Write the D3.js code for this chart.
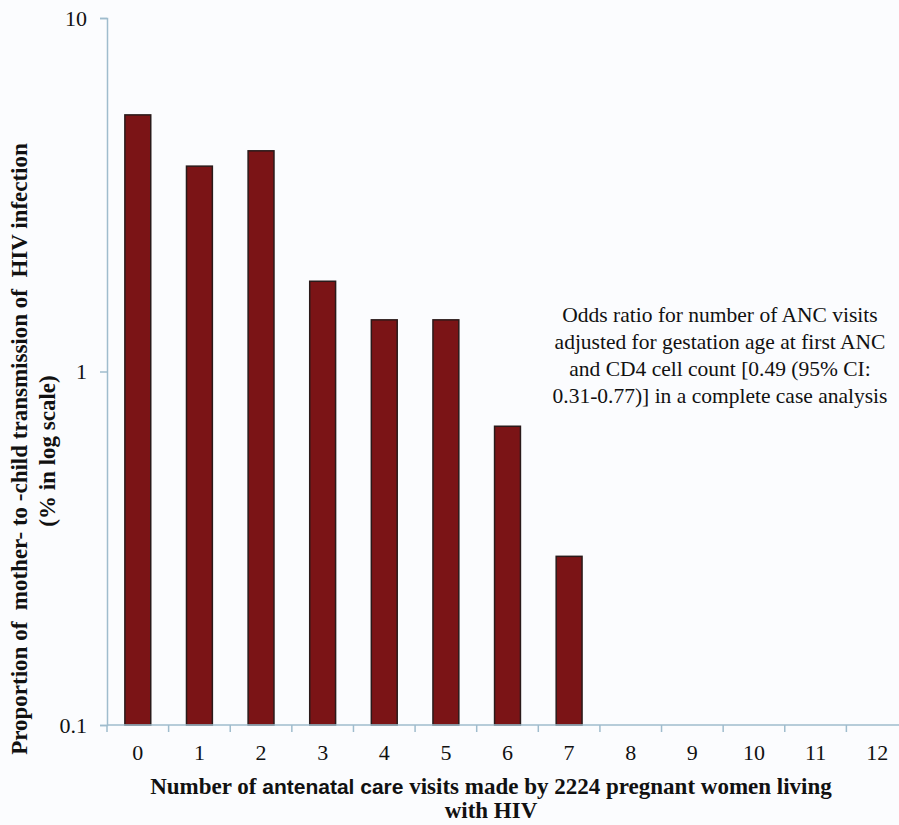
<!DOCTYPE html>
<html>
<head>
<meta charset="utf-8">
<script src="https://cdn.jsdelivr.net/npm/d3@7"></script>
<style>
  body { margin: 0; background: #fbfcfe; }
  svg { display: block; }
  svg text { font-family: "Liberation Serif", "Times New Roman", serif; }
</style>
</head>
<body>
<div id="chart"></div>
<script>
// data (% transmission, log scale)
const visits = ["0","1","2","3","4","5","6","7","8","9","10","11","12"];
const transmission = [5.32, 3.81, 4.21, 1.80, 1.40, 1.40, 0.70, 0.30, null, null, null, null, null];
const yTicks = [0.1, 1, 10];
const noteLines = [
  "Odds ratio for number of ANC visits",
  "adjusted for gestation age at first ANC",
  "and CD4 cell count [0.49 (95% CI:",
  "0.31-0.77)] in a complete case analysis"
];

const width = 899, height = 825;
const plotLeft = 107, plotTop = 18, plotBottom = 725, plotRight = 908;

const svg = d3.select("#chart")
    .append("svg")
    .attr("width", width)
    .attr("height", height);

svg.append("rect").attr("width", width).attr("height", height).attr("fill", "#fbfcfe");

const x = d3.scaleBand()
    .domain(visits)
    .range([plotLeft, plotRight])
    .paddingInner(0.58)
    .paddingOuter(0.29);

const y = d3.scaleLog()
    .domain([0.1, 10])
    .range([plotBottom, plotTop]);

const axisColor = "#9fbccd";

// bars
svg.selectAll("rect.bar")
    .data(visits.map((v, i) => ({v: v, p: transmission[i]})).filter(d => d.p != null))
    .enter()
    .append("rect")
    .attr("class", "bar")
    .attr("x", d => x(d.v))
    .attr("width", x.bandwidth())
    .attr("y", d => y(d.p))
    .attr("height", d => y(0.1) - y(d.p))
    .attr("fill", "#7b1416")
    .attr("stroke", "#2a1a1a")
    .attr("stroke-width", 1.5);

// y axis
const yAxis = svg.append("g")
    .attr("transform", `translate(${plotLeft},0)`)
    .call(d3.axisLeft(y).tickValues(yTicks).tickFormat(d3.format("")).tickSize(7).tickPadding(13));
yAxis.select(".domain").attr("stroke", axisColor).attr("stroke-width", 1.5);
yAxis.selectAll(".tick line").attr("stroke", axisColor).attr("stroke-width", 1.5);
yAxis.selectAll("text").attr("font-size", 22).attr("fill", "#111");

// x axis: ticks sit on the boundaries between categories
const xg = svg.append("g").attr("transform", `translate(0,${plotBottom})`);
xg.append("line")
    .attr("x1", plotLeft).attr("x2", plotRight)
    .attr("stroke", axisColor).attr("stroke-width", 1.5);
const gap = (x.step() - x.bandwidth()) / 2;
xg.selectAll("line.tk")
    .data(visits)
    .enter()
    .append("line")
    .attr("class", "tk")
    .attr("x1", d => x(d) - gap)
    .attr("x2", d => x(d) - gap)
    .attr("y1", 0).attr("y2", 7)
    .attr("stroke", axisColor).attr("stroke-width", 1.5);
xg.selectAll("text")
    .data(visits)
    .enter()
    .append("text")
    .attr("x", d => x(d) + x.bandwidth() / 2)
    .attr("y", 35)
    .attr("text-anchor", "middle")
    .attr("font-size", 22)
    .attr("fill", "#111")
    .text(d => d);

// x title
const xt = svg.append("text")
    .attr("x", 491)
    .attr("y", 794)
    .attr("text-anchor", "middle")
    .attr("font-weight", "bold")
    .attr("font-size", 23)
    .attr("fill", "#111");
xt.append("tspan").text("Number of ");
xt.append("tspan").style("font-family", "'Liberation Sans', Arial, sans-serif").attr("font-size", 21).text("antenatal care");
xt.append("tspan").text(" visits made by 2224 pregnant women living");
svg.append("text")
    .attr("x", 491)
    .attr("y", 818)
    .attr("text-anchor", "middle")
    .attr("font-weight", "bold")
    .attr("font-size", 23)
    .attr("fill", "#111")
    .text("with HIV");

// y title
svg.append("text")
    .attr("transform", "translate(27,449) rotate(-90)")
    .attr("text-anchor", "middle")
    .attr("font-weight", "bold")
    .attr("font-size", 23)
    .attr("fill", "#111")
    .style("white-space", "pre")
    .text("Proportion of  mother- to -child transmission of  HIV infection");
svg.append("text")
    .attr("transform", "translate(55,451) rotate(-90)")
    .attr("text-anchor", "middle")
    .attr("font-weight", "bold")
    .attr("font-size", 23)
    .attr("fill", "#111")
    .text("(% in log scale)");

// annotation
svg.append("g")
    .selectAll("text")
    .data(noteLines)
    .enter()
    .append("text")
    .attr("x", 720)
    .attr("y", (d, i) => 322 + i * 27)
    .attr("text-anchor", "middle")
    .attr("font-size", 21.5)
    .attr("fill", "#111")
    .text(d => d);
</script>
</body>
</html>
